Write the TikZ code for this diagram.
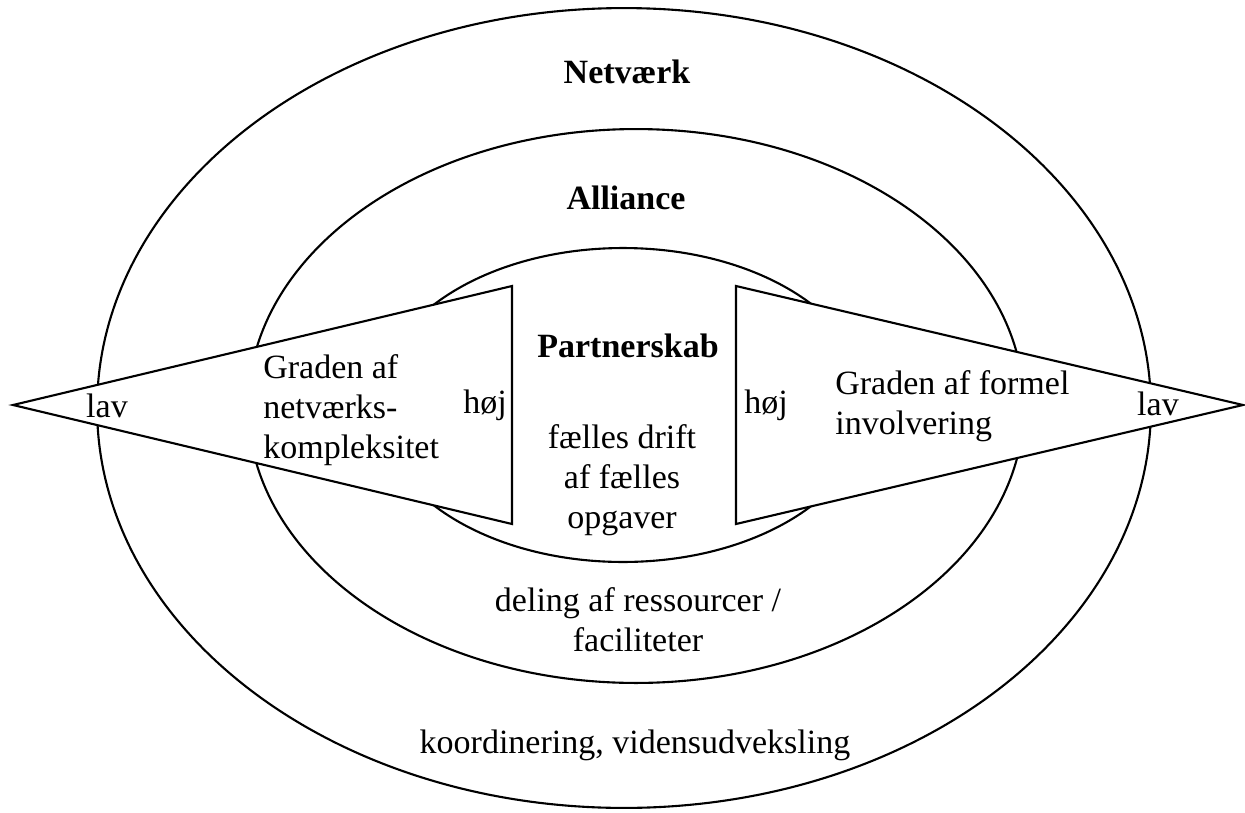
\documentclass[tikz,border=0pt]{standalone}
\usepackage{fontspec}
\setmainfont{Liberation Serif}
\usetikzlibrary{shapes.geometric}
\begin{document}
\begin{tikzpicture}[x=0.02cm,y=-0.02cm,
  outline/.style={draw=black,line width=1.2pt,line join=miter},
  ring/.style={ellipse,draw=black,line width=1.2pt,inner sep=0pt,outer sep=0pt},
  lbl/.style={font=\fontsize{19.35pt}{22.8pt}\selectfont,inner sep=0pt,anchor=base},
  ttl/.style={lbl,font=\fontsize{19.35pt}{22.8pt}\selectfont\bfseries},
  block/.style={font=\fontsize{19.35pt}{22.8pt}\selectfont,inner sep=0pt}]
\useasboundingbox (0,0) rectangle (1245,812);
% rings
\node[ring,minimum width=21.08cm,minimum height=16cm] (netvaerk) at (624,408) {};
\node[ring,minimum width=15.52cm,minimum height=11.08cm] (alliance) at (636,406) {};
\node[ring,minimum width=9.84cm,minimum height=6.28cm] (partnerskab) at (623,405) {};
% triangles
\coordinate (ltip) at (13,405);
\coordinate (ltop) at (512,286);
\coordinate (lbot) at (512,524);
\coordinate (rtip) at (1243,405);
\coordinate (rtop) at (736,286);
\coordinate (rbot) at (736,524);
\draw[outline,fill=white] (ltip) -- (ltop) -- (lbot) -- cycle;
\draw[outline,fill=white] (rtip) -- (rtop) -- (rbot) -- cycle;
% titles
\node[ttl] (tnet) at (627,83) {Netværk};
\node[ttl] (tall) at (626,209) {Alliance};
\node[ttl] (tpart) at (628,357) {Partnerskab};
% triangle labels
\node[lbl] (lavl) at (107,417) {lav};
\node[lbl] (hojl) at (485,413) {høj};
\node[lbl] (hojr) at (766,413) {høj};
\node[lbl] (lavr) at (1158,415) {lav};
\node[block,align=left,anchor=north west] (gradl) at (263,354) {Graden af\\netværks-\\kompleksitet};
\node[block,align=left,anchor=north west] (gradr) at (835,370) {Graden af formel\\involvering};
% ring contents
\node[block,align=center,anchor=north] (drift) at (622,424) {fælles drift\\af fælles\\opgaver};
\node[block,align=center,anchor=north] (deling) at (638,587) {deling af ressourcer /\\faciliteter};
\node[lbl] (koord) at (635,753) {koordinering, vidensudveksling};
\end{tikzpicture}
\end{document}
